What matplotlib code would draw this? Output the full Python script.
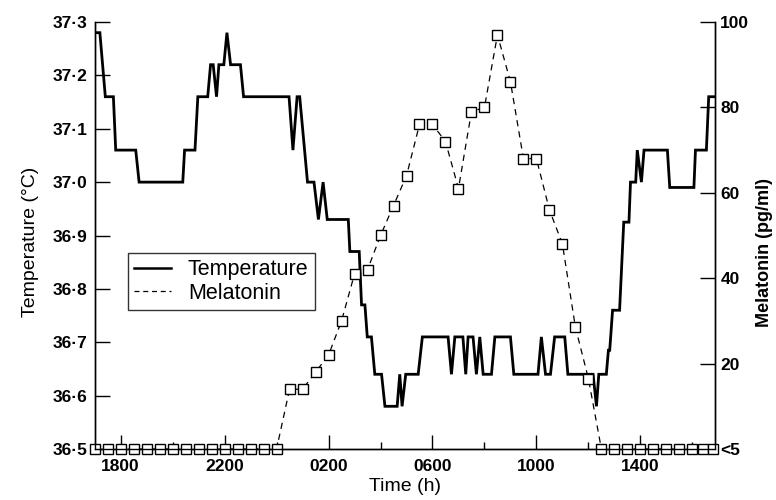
import matplotlib
matplotlib.use("Agg")
import matplotlib.pyplot as plt
from matplotlib.lines import Line2D
from matplotlib.ticker import FixedLocator

plt.rcParams["font.family"] = ["Liberation Sans", "DejaVu Sans"]

# ── Data (time in hours after 1700) ───────────────────────────────────────
temp_t = [0, 0.2, 0.41, 0.72, 0.81, 1.58, 1.71, 3.39, 3.46, 3.86, 3.97, 4.35,
          4.46, 4.56, 4.69, 4.78, 4.97, 5.09, 5.23, 5.61, 5.73, 7.48, 7.63,
          7.79, 7.89, 8.19, 8.44, 8.61, 8.79, 8.95, 9.76, 9.82, 10.18, 10.27,
          10.4, 10.49, 10.65, 10.78, 11.04, 11.17, 11.64, 11.74, 11.83, 11.97,
          12.45, 12.61, 13.6, 13.73, 13.86, 14.17, 14.28, 14.37, 14.56, 14.69,
          14.82, 14.95, 15.27, 15.4, 16.0, 16.13, 17.06, 17.19, 17.35, 17.54,
          17.7, 18.09, 18.21, 19.18, 19.31, 19.40, 19.69, 19.77, 19.82, 19.93,
          20.2, 20.36, 20.56, 20.62, 20.82, 20.88, 21.04, 21.14, 22.04, 22.13,
          23.06, 23.12, 23.54, 23.63, 23.86]
temp_c = [37.28, 37.28, 37.16, 37.16, 37.06, 37.06, 37.0, 37.0, 37.06, 37.06,
          37.16, 37.16, 37.22, 37.22, 37.16, 37.22, 37.22, 37.28, 37.22, 37.22,
          37.16, 37.16, 37.06, 37.16, 37.16, 37.0, 37.0, 36.93, 37.0, 36.93,
          36.93, 36.87, 36.87, 36.77, 36.77, 36.71, 36.71, 36.64, 36.64, 36.58,
          36.58, 36.64, 36.58, 36.64, 36.64, 36.71, 36.71, 36.64, 36.71, 36.71,
          36.64, 36.71, 36.71, 36.64, 36.71, 36.64, 36.64, 36.71, 36.71, 36.64,
          36.64, 36.71, 36.64, 36.64, 36.71, 36.71, 36.64, 36.64, 36.58, 36.64,
          36.64, 36.685, 36.685, 36.76, 36.76, 36.925, 36.925, 37.0, 37.0,
          37.06, 37.0, 37.06, 37.06, 36.99, 36.99, 37.06, 37.06, 37.16, 37.16]

mel_t = [0, 0.5, 1, 1.5, 2, 2.5, 3, 3.5, 4, 4.5, 5, 5.5, 6, 6.5, 7,
         7.5, 8, 8.5, 9, 9.5, 10, 10.5, 11, 11.5, 12, 12.5, 13, 13.5, 14,
         14.5, 15, 15.5, 16, 16.5, 17, 17.5, 18, 18.5, 19,
         19.5, 20, 20.5, 21, 21.5, 22, 22.5, 23, 23.4, 23.8]
mel_pg = [0, 0, 0, 0, 0, 0, 0, 0, 0, 0, 0, 0, 0, 0, 0,
          14, 14, 18, 22, 30, 41, 42, 50, 57, 64, 76, 76, 72, 61,
          79, 80, 97, 86, 68, 68, 56, 48, 28.5, 16.5,
          0, 0, 0, 0, 0, 0, 0, 0, 0, 0]

x_major = [1, 5, 9, 13, 17, 21]
x_major_labels = ["1800", "2200", "0200", "0600", "1000", "1400"]
x_minor = [3, 7, 11, 15, 19, 23]
temp_ticks = [36.5, 36.6, 36.7, 36.8, 36.9, 37.0, 37.1, 37.2, 37.3]
temp_labels = ["36\u00b75", "36\u00b76", "36\u00b77", "36\u00b78", "36\u00b79",
               "37\u00b70", "37\u00b71", "37\u00b72", "37\u00b73"]
mel_ticks = [0, 20, 40, 60, 80, 100]
mel_labels = ["<5", "20", "40", "60", "80", "100"]

# ── Plot ───────────────────────────────────────────────────────────────────
fig = plt.figure(figsize=(7.76, 5.0), dpi=100)
ax = fig.add_axes([0.122, 0.102, 0.799, 0.854])
ax.plot(temp_t, temp_c, color="black", lw=2.0, solid_joinstyle="miter")
ax.set_xlim(0, 23.86)
ax.set_ylim(36.5, 37.3)

ax2 = ax.twinx()
ax2.plot(mel_t, mel_pg, color="black", lw=0.9, ls=(0, (5, 4)),
         marker="s", ms=7.2, mfc="white", mec="black", mew=1.0, clip_on=False)
ax2.set_ylim(0, 100)

for a in (ax, ax2):
    a.spines["top"].set_visible(False)
    for side in ("left", "right", "bottom"):
        a.spines[side].set_linewidth(1.0)

ax.xaxis.set_major_locator(FixedLocator(x_major))
ax.xaxis.set_minor_locator(FixedLocator(x_minor))
ax.set_xticklabels(x_major_labels)
ax.set_yticks(temp_ticks)
ax.set_yticklabels(temp_labels)
ax2.set_yticks(mel_ticks)
ax2.set_yticklabels(mel_labels)

ax.tick_params(axis="x", which="major", direction="in", length=10, width=1, pad=7)
ax.tick_params(axis="x", which="minor", direction="in", length=5, width=1)
ax.tick_params(axis="y", direction="in", length=11, width=1, pad=5)
ax2.tick_params(axis="y", direction="in", length=11, width=1, pad=4)
for lab in ax.get_xticklabels() + ax.get_yticklabels() + ax2.get_yticklabels():
    lab.set_fontsize(12.5)
    lab.set_fontweight("bold")

ax.set_xlabel("Time (h)", fontsize=14, labelpad=3)
ax.set_ylabel("Temperature (\u00b0C)", fontsize=14, labelpad=10)
ax.yaxis.label.set_y(0.485)
ax2.set_ylabel("Melatonin (pg/ml)", fontsize=13, fontweight="bold", labelpad=5)
ax2.yaxis.label.set_y(0.46)

handles = [Line2D([], [], color="black", lw=1.8),
           Line2D([], [], color="black", lw=0.9, ls=(0, (4, 3)))]
leg = ax2.legend(handles, ["Temperature", "Melatonin"], loc="upper left",
                 bbox_to_anchor=(0.053, 0.459), borderaxespad=0,
                 fancybox=False, frameon=True, edgecolor="black",
                 fontsize=15.5, handlelength=1.7, borderpad=0.3,
                 labelspacing=0.1, handletextpad=0.8)
leg.get_frame().set_linewidth(1.0)

fig.savefig("out.png", dpi=100)
